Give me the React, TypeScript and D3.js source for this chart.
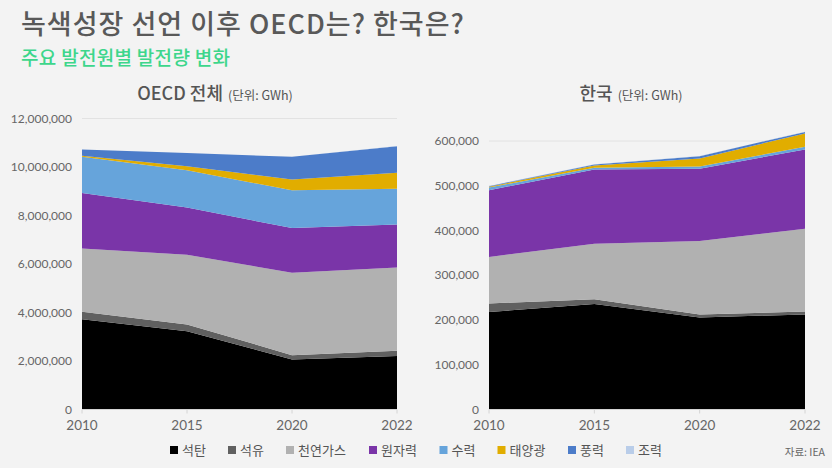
import React from "react";
import * as d3 from "d3";

const years = ["2010", "2015", "2020", "2022"];
const seriesKeys = ["석탄", "석유", "천연가스", "원자력", "수력", "태양광", "풍력", "조력"];
const seriesColors = ["#000000", "#606060", "#b1b1b1", "#7a35a8", "#66a4db", "#e1ad00", "#4c7cc9", "#b9cde9"];

// OECD (GWh)
const oecdCoal = [3725000, 3230000, 2060000, 2210000];
const oecdOil = [305000, 280000, 180000, 210000];
const oecdGas = [2610000, 2870000, 3400000, 3440000];
const oecdNuclear = [2290000, 1950000, 1840000, 1770000];
const oecdHydro = [1490000, 1540000, 1560000, 1470000];
const oecdSolar = [40000, 160000, 440000, 660000];
const oecdWind = [260000, 550000, 940000, 1100000];
const oecdTidal = [1000, 1000, 1000, 1000];

// Korea (GWh)
const korCoal = [218000, 235500, 205700, 212400];
const korOil = [19000, 11000, 6700, 6600];
const korGas = [104000, 124000, 164000, 185000];
const korNuclear = [149000, 165600, 161600, 177000];
const korHydro = [6000, 4400, 5000, 6000];
const korSolar = [2000, 5000, 18000, 30000];
const korWind = [1000, 2000, 5000, 3300];
const korTidal = [500, 500, 500, 500];

const oecdTicks = [0, 2000000, 4000000, 6000000, 8000000, 10000000, 12000000];
const korTicks = [0, 100000, 200000, 300000, 400000, 500000, 600000];

const FONT = "'Noto Sans CJK KR', 'Noto Sans', sans-serif";
const NUMFONT = "Lato, 'Noto Sans', sans-serif";

type Row = { [k: string]: number | string };

function buildRows(cols: number[][]): Row[] {
  return years.map((y, i) => {
    const r: Row = { year: y };
    seriesKeys.forEach((k, j) => (r[k] = cols[j][i]));
    return r;
  });
}

function Panel(props: {
  rows: Row[];
  x0: number;
  x1: number;
  yBottom: number;
  yTop: number;
  max: number;
  ticks: number[];
  labelRight: number;
  title: string;
  titleCx: number;
}) {
  const { rows, x0, x1, yBottom, yTop, max, ticks, labelRight, title, titleCx } = props;
  const x = d3.scalePoint<string>().domain(years).range([x0, x1]);
  const y = d3.scaleLinear().domain([0, max]).range([yBottom, yTop]);
  const stack = d3.stack<Row>().keys(seriesKeys).value((d, k) => d[k] as number);
  const layers = stack(rows);
  const area = d3
    .area<d3.SeriesPoint<Row>>()
    .x((d) => x(d.data.year as string) as number)
    .y0((d) => y(d[0]))
    .y1((d) => y(d[1]));
  const fmt = d3.format(",");
  return (
    <g>
      <text x={titleCx} y={100} textAnchor="middle" fontFamily={FONT} fill="#555">
        <tspan fontSize={18} fontWeight={500}>{title}</tspan>
        <tspan fontSize={12.5} dx={5}>(단위: GWh)</tspan>
      </text>
      {ticks.map((t) => (
        <g key={t}>
          <line x1={x0} x2={x1} y1={y(t)} y2={y(t)} stroke="#e2e2e2" strokeWidth={1} />
          <text
            x={labelRight}
            y={y(t)}
            dy="0.35em"
            textAnchor="end"
            fontFamily={NUMFONT}
            fontSize={12}
            fill="#666"
          >
            {fmt(t)}
          </text>
        </g>
      ))}
      {layers.map((l, i) => (
        <path key={l.key} d={area(l) || ""} fill={seriesColors[i]} />
      ))}
      <line x1={x0} x2={x1} y1={yBottom} y2={yBottom} stroke="#d4d4d4" strokeWidth={1} />
      {years.map((yr) => (
        <g key={yr}>
          <line
            x1={x(yr)}
            x2={x(yr)}
            y1={yBottom}
            y2={yBottom + 4}
            stroke="#d4d4d4"
            strokeWidth={1}
          />
          <text
            x={x(yr)}
            y={yBottom + 20}
            textAnchor="middle"
            fontFamily={NUMFONT}
            fontSize={13.5}
            fill="#666"
          >
            {yr}
          </text>
        </g>
      ))}
    </g>
  );
}

export default function App() {
  const oecdRows = buildRows([oecdCoal, oecdOil, oecdGas, oecdNuclear, oecdHydro, oecdSolar, oecdWind, oecdTidal]);
  const korRows = buildRows([korCoal, korOil, korGas, korNuclear, korHydro, korSolar, korWind, korTidal]);

  let lx = 170;
  const legendItems = seriesKeys.map((k, i) => {
    const item = { key: k, x: lx, color: seriesColors[i] };
    lx += 33 + 12.5 * k.length;
    return item;
  });

  return (
    <svg
      width={832}
      height={468}
      style={{ position: "absolute", left: 0, top: 0, display: "block" }}
    >
      <rect x={0} y={0} width={832} height={468} fill="#f3f3f3" />
      <text x={21} y={34} fontFamily={FONT} fontSize={27} fontWeight={500} letterSpacing={1} fill="#595959">
        녹색성장 선언 이후 OECD는? 한국은?
      </text>
      <text x={21} y={64.5} fontFamily={FONT} fontSize={19} fontWeight={500} letterSpacing={0.3} fill="#3dd68b">
        주요 발전원별 발전량 변화
      </text>
      <Panel
        rows={oecdRows}
        x0={82}
        x1={397}
        yBottom={409.5}
        yTop={118.5}
        max={12000000}
        ticks={oecdTicks}
        labelRight={72}
        title="OECD 전체"
        titleCx={215}
      />
      <Panel
        rows={korRows}
        x0={489}
        x1={805}
        yBottom={409.5}
        yTop={141}
        max={600000}
        ticks={korTicks}
        labelRight={479}
        title="한국"
        titleCx={631}
      />
      {legendItems.map((it) => (
        <g key={it.key}>
          <rect x={it.x} y={446} width={8} height={8} fill={it.color} />
          <text x={it.x + 12} y={450} dy="0.35em" fontFamily={FONT} fontSize={13} fill="#555">
            {it.key}
          </text>
        </g>
      ))}
      <text x={825} y={452} dy="0.35em" textAnchor="end" fontFamily={FONT} fontSize={10.5} fill="#666">
        자료: IEA
      </text>
    </svg>
  );
}
